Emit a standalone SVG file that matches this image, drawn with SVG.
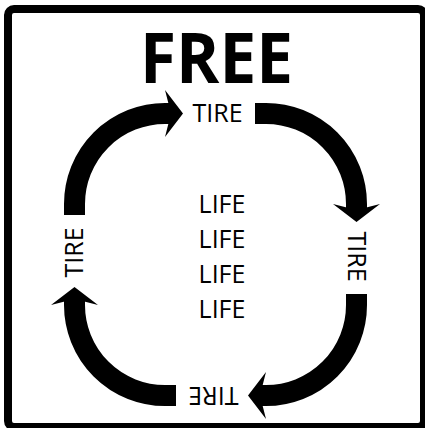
<svg xmlns="http://www.w3.org/2000/svg" width="425" height="428" viewBox="0 0 425 428">
<style>
.lbl{font-family:"Open Sans","Noto Sans",sans-serif;font-size:25px;fill:#000;text-anchor:middle}
.title{font-family:"Open Sans","Noto Sans",sans-serif;font-size:70px;font-weight:bold;fill:#000;text-anchor:middle}
.arc{fill:none;stroke:#000;stroke-width:21}
</style>
<defs>
<g id="arrow">
<path class="arc" d="M74.5,215 L74.5,204 A90.5,90.5 0 0 1 165,113.5 L172,113.5"/>
<polygon points="183,113.5 165,90 171,113.5 165,137" fill="#000"/>
</g>
</defs>
<rect x="0" y="0" width="425" height="428" fill="#fff"/>
<rect x="8" y="9" width="416" height="418" rx="6" fill="none" stroke="#000" stroke-width="8"/>
<g id="title"><text class="title" x="216.5" y="83" textLength="153" lengthAdjust="spacingAndGlyphs">FREE</text></g>
<g id="connectors">
<use href="#arrow"/>
<use href="#arrow" transform="rotate(90 215.5 254.5)"/>
<use href="#arrow" transform="rotate(180 215.5 254.5)"/>
<use href="#arrow" transform="rotate(270 215.5 254.5)"/>
</g>
<g id="tire-top"><text class="lbl" x="217.5" y="122">TIRE</text></g>
<g id="tire-right" transform="rotate(90 215.5 254.5)"><text class="lbl" x="217.5" y="122">TIRE</text></g>
<g id="tire-bottom" transform="rotate(180 215.5 254.5)"><text class="lbl" x="217.5" y="122">TIRE</text></g>
<g id="tire-left" transform="rotate(270 215.5 254.5)"><text class="lbl" x="217.5" y="122">TIRE</text></g>
<g id="life">
<text class="lbl" x="222" y="213">LIFE</text>
<text class="lbl" x="222" y="248">LIFE</text>
<text class="lbl" x="222" y="283">LIFE</text>
<text class="lbl" x="222" y="318">LIFE</text>
</g>
</svg>
